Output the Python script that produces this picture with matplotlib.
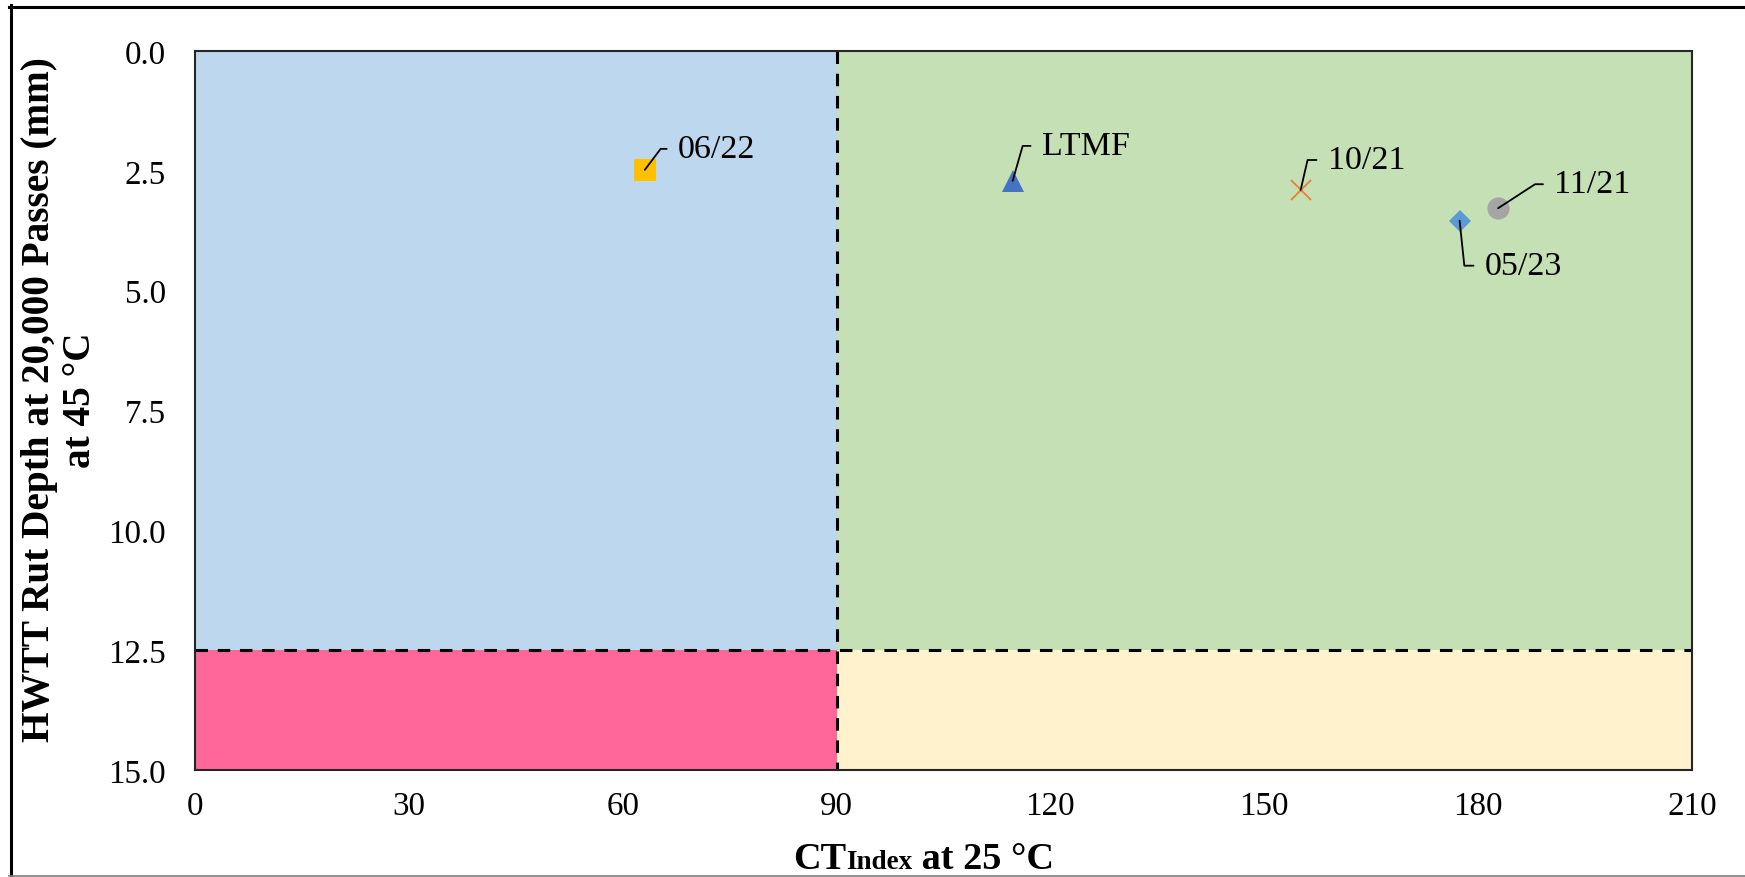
import matplotlib
matplotlib.use("Agg")
import matplotlib.pyplot as plt
from matplotlib.lines import Line2D
import numpy as np

plt.rcParams['font.family'] = ['Liberation Serif', 'DejaVu Serif']
plt.rcParams['lines.scale_dashes'] = False

# ---- data ----
labels = ['06/22', 'LTMF', '10/21', '05/23', '11/21']
ct_index = [63.1, 114.7, 155.1, 177.4, 182.8]
rut_depth = [2.48, 2.71, 2.90, 3.54, 3.28]
ct_threshold = 90
rut_threshold = 12.5
x_limits = [0, 210]
y_limits = [0, 15]
x_ticks = [0, 30, 60, 90, 120, 150, 180, 210]
y_ticks = [0.0, 2.5, 5.0, 7.5, 10.0, 12.5, 15.0]

# ---- styles ----
marker_styles = {
    '06/22': dict(marker='s', color='#FFC000', ms=16),
    'LTMF': dict(marker='^', color='#4472C4', ms=16),
    '10/21': dict(marker='x', color='#ED7D31', ms=15, mew=1.3),
    '05/23': dict(marker='D', color='#5B9BD5', ms=10.7),
    '11/21': dict(marker='o', color='#A5A5A5', ms=16),
}
# text offset (pixels, from point to left-center of text) and leader angle near point
label_offsets = {
    '06/22': ((33, 21), 53),
    'LTMF': ((29, 35), 74),
    '10/21': ((27, 30), 77),
    '05/23': ((25, -45), -84),
    '11/21': ((56, 24), 33),
}

W, H = 1745, 878
fig = plt.figure(figsize=(W / 100, H / 100), dpi=100)
ax = fig.add_axes([195 / W, 1 - 771 / H, (1692 - 195) / W, (771 - 52) / H])

ax.set_xlim(*x_limits)
ax.set_ylim(y_limits[1], y_limits[0])

# quadrant fills
ax.fill_between([x_limits[0], ct_threshold], y_limits[0], rut_threshold, color='#BDD7EE', lw=0, zorder=0)
ax.fill_between([ct_threshold, x_limits[1]], y_limits[0], rut_threshold, color='#C5E0B4', lw=0, zorder=0)
ax.fill_between([x_limits[0], ct_threshold], rut_threshold, y_limits[1], color='#FF6699', lw=0, zorder=0)
ax.fill_between([ct_threshold, x_limits[1]], rut_threshold, y_limits[1], color='#FFF2CC', lw=0, zorder=0)

# threshold dashed lines
ax.plot([ct_threshold, ct_threshold], y_limits, color='black', lw=2.2, dashes=(9, 7), zorder=2, clip_on=False)
ax.plot(x_limits, [rut_threshold, rut_threshold], color='black', lw=2.2, dashes=(9, 7), zorder=2)

for lab, x, y in zip(labels, ct_index, rut_depth):
    st = marker_styles[lab]
    ax.plot([x], [y], linestyle='none', marker=st['marker'], color=st['color'],
            markersize=st['ms'], markeredgewidth=st.get('mew', 0.0) if st['marker'] == 'x' else 0.0,
            zorder=3)
    (dx, dy), ang = label_offsets[lab]
    ax.annotate(lab, xy=(x, y), xytext=(dx, dy), textcoords='offset pixels',
                ha='left', va='center', fontsize=24.5, color='black', zorder=5,
                arrowprops=dict(arrowstyle='-', color='black', lw=1.3,
                                connectionstyle=f'angle,angleA=0,angleB={ang},rad=0',
                                relpos=(0, 0.5), shrinkA=6.0, shrinkB=0))

ax.set_xticks(x_ticks)
ax.set_xticklabels([str(t) for t in x_ticks])
ax.set_yticks(y_ticks)
ax.set_yticklabels([f'{t:.1f}' for t in y_ticks])
ax.tick_params(axis='both', length=0, labelsize=23.8, colors='black')
ax.tick_params(axis='x', pad=15)
ax.tick_params(axis='y', pad=21)
for sp in ax.spines.values():
    sp.set_color('#262626')
    sp.set_linewidth(1.5)
    sp.set_zorder(4)

# y label (two lines)
fig.text(60 / W, 1 - 400 / H, 'HWTT Rut Depth at 20,000 Passes (mm)\nat 45 °C',
         rotation=90, ha='center', va='center', multialignment='center',
         fontsize=28.3, fontweight='bold', linespacing=1.15)

# x label with subscript
renderer = fig.canvas.get_renderer()
base_y = 1 - 869 / H
t1 = fig.text(793 / W, base_y, 'CT', ha='left', va='baseline', fontsize=27.5, fontweight='bold')
bb1 = t1.get_window_extent(renderer)
t2 = fig.text(bb1.x1 / W, base_y, 'Index', ha='left', va='baseline', fontsize=19.5, fontweight='bold')
bb2 = t2.get_window_extent(renderer)
t3 = fig.text(bb2.x1 / W, base_y, ' at 25 °C', ha='left', va='baseline', fontsize=27.5, fontweight='bold')

# outer frame
fig.add_artist(Line2D([9 / W, 1], [1 - 7.5 / H, 1 - 7.5 / H], transform=fig.transFigure, color='black', lw=2.2))
fig.add_artist(Line2D([10.5 / W, 10.5 / W], [1 - 6 / H, 1 / H], transform=fig.transFigure, color='black', lw=2.2))
fig.add_artist(Line2D([9 / W, 1], [1 / H, 1 / H], transform=fig.transFigure, color='#808080', lw=1.2))

fig.savefig('out.png', dpi=100)
